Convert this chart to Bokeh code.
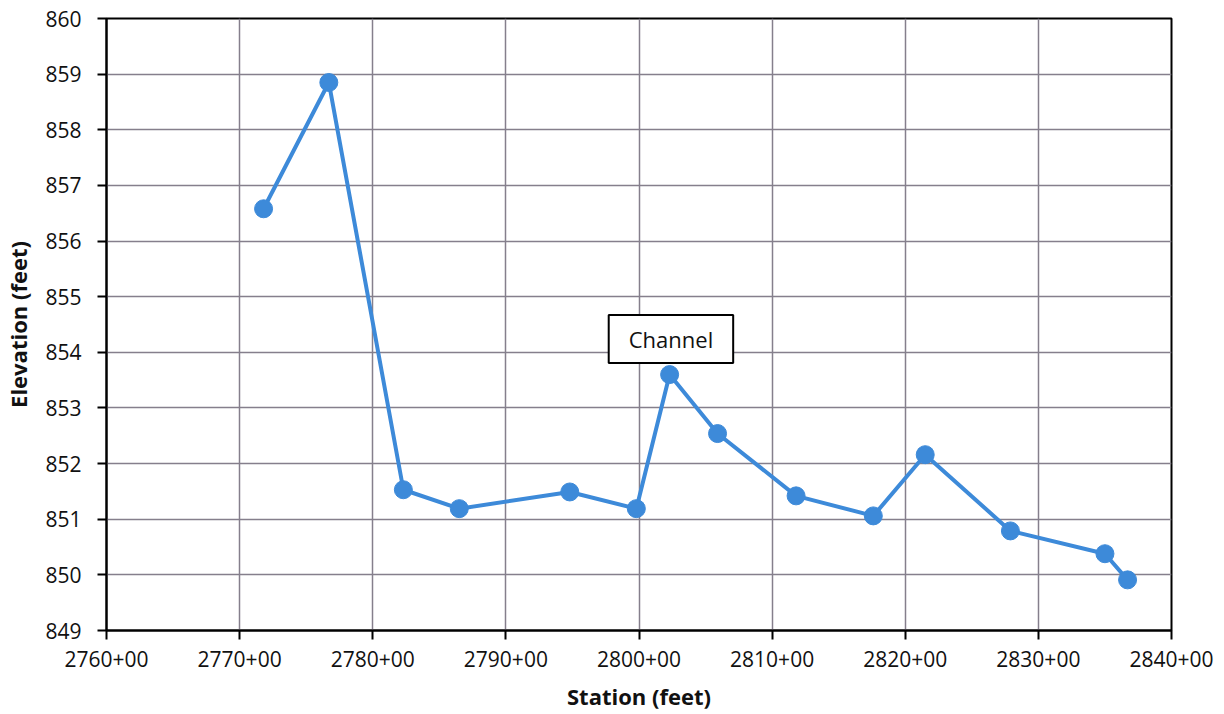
from bokeh.plotting import figure
from bokeh.models import Label, FixedTicker, Range1d
from bokeh.embed import file_html
from bokeh.resources import INLINE

station = [2771.8, 2776.7, 2782.3, 2786.5, 2794.8, 2799.8, 2802.3, 2805.9,
           2811.8, 2817.6, 2821.5, 2827.9, 2835.0, 2836.7]
elevation = [856.58, 858.85, 851.53, 851.19, 851.49, 851.19, 853.60, 852.54,
             851.42, 851.06, 852.16, 850.79, 850.38, 849.91]
x_ticks = [2760, 2770, 2780, 2790, 2800, 2810, 2820, 2830, 2840]
x_tick_labels = ["2760+00", "2770+00", "2780+00", "2790+00", "2800+00",
                 "2810+00", "2820+00", "2830+00", "2840+00"]
y_ticks = [849, 850, 851, 852, 853, 854, 855, 856, 857, 858, 859, 860]
note_text = "Channel"
note_x = 2802.4
note_y = 854.24

FONT = "Open Sans"
BLUE = "#3d8ad9"

p = figure(width=1224, height=714, output_backend="svg", toolbar_location=None,
           x_range=Range1d(2760, 2840), y_range=Range1d(849, 860),
           min_border_left=106, min_border_right=53, min_border_top=18,
           min_border_bottom=84)
p.background_fill_color = "white"
p.border_fill_color = "white"
p.outline_line_color = "black"
p.outline_line_width = 2

p.line(station, elevation, line_color=BLUE, line_width=4)
p.scatter(station, elevation, size=18, fill_color=BLUE, line_color=BLUE)

for ax in (p.xaxis, p.yaxis):
    ax.axis_line_color = "black"
    ax.axis_line_width = 2
    ax.major_tick_line_color = "black"
    ax.major_tick_line_width = 2
    ax.major_tick_out = 9
    ax.major_tick_in = 0
    ax.minor_tick_line_color = None
    ax.major_label_text_font = FONT
    ax.major_label_text_font_size = "21px"
    ax.major_label_text_color = "#111111"
    ax.axis_label_text_font = FONT
    ax.axis_label_text_font_size = "22px"
    ax.axis_label_text_font_style = "bold"
    ax.axis_label_text_color = "#111111"

p.xaxis.ticker = FixedTicker(ticks=x_ticks)
p.xaxis.major_label_overrides = {t: l for t, l in zip(x_ticks, x_tick_labels)}
p.yaxis.ticker = FixedTicker(ticks=y_ticks)
p.xaxis.axis_label = "Station (feet)"
p.yaxis.axis_label = "Elevation (feet)"
p.xaxis.major_label_standoff = 11
p.yaxis.major_label_standoff = 16
p.xaxis.axis_label_standoff = 11
p.yaxis.axis_label_standoff = 9

p.xgrid.ticker = FixedTicker(ticks=x_ticks)
p.ygrid.ticker = FixedTicker(ticks=y_ticks)
for g in (p.xgrid, p.ygrid):
    g.grid_line_color = "#857f8c"
    g.grid_line_width = 1.5

lbl = Label(x=note_x, y=note_y, text=note_text, text_align="center",
            text_baseline="middle", text_font=FONT, text_font_size="22px",
            text_color="#111111", background_fill_color="white",
            border_line_color="black", border_line_width=2,
            padding=dict(left=20, right=20, top=9, bottom=9))
p.add_layout(lbl)

open("out.html", "w").write(file_html(p, INLINE))
